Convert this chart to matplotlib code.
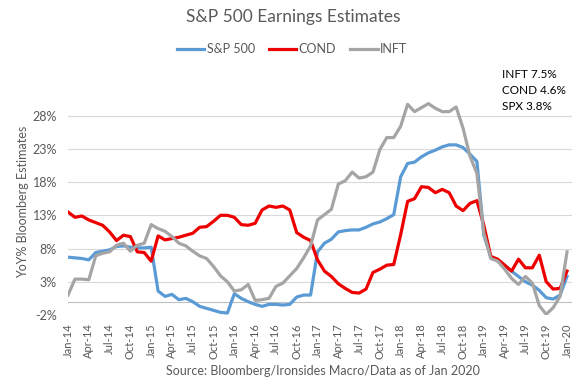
import matplotlib
matplotlib.use("Agg")
import matplotlib.pyplot as plt

plt.rcParams['font.family'] = ['Lato', 'DejaVu Sans']

# monthly, Jan-14 .. Jan-20
months = ['Jan', 'Feb', 'Mar', 'Apr', 'May', 'Jun', 'Jul', 'Aug', 'Sep', 'Oct', 'Nov', 'Dec']
dates = ['%s-%02d' % (months[i % 12], 14 + i // 12) for i in range(73)]

spx = [6.7, 6.6, 6.5, 6.3, 7.4, 7.6, 7.8, 8.3, 8.4, 8.2, 8.1, 8.1,
       8.2, 1.6, 0.8, 1.1, 0.3, 0.5, 0.0, -0.7, -1.0, -1.3, -1.6, -1.7,
       1.2, 0.5, 0.0, -0.4, -0.7, -0.4, -0.4, -0.5, -0.4, 0.7, 1.0, 1.0,
       7.5, 8.8, 9.4, 10.5, 10.7, 10.8, 10.8, 11.2, 11.7, 12.0, 12.5, 13.1,
       18.8, 20.8, 21.0, 21.8, 22.4, 22.8, 23.3, 23.6, 23.6, 23.2, 22.2, 21.1,
       10.0, 6.8, 6.3, 5.5, 4.6, 3.8, 3.0, 2.5, 1.7, 0.6, 0.4, 1.0,
       3.8]

cond = [13.5, 12.7, 12.9, 12.3, 11.9, 11.5, 10.5, 9.2, 10.0, 9.8, 7.5, 7.4,
        6.1, 9.9, 9.3, 9.5, 9.7, 10.0, 10.3, 11.2, 11.3, 12.1, 13.0, 13.0,
        12.7, 11.6, 11.5, 11.8, 13.8, 14.4, 14.2, 14.4, 13.8, 10.4, 9.7, 9.2,
        6.3, 4.6, 3.8, 2.7, 2.0, 1.4, 1.3, 1.9, 4.4, 4.9, 5.5, 5.6,
        10.1, 15.1, 15.5, 17.3, 17.2, 16.4, 16.9, 16.4, 14.4, 13.7, 14.8, 15.2,
        11.5, 6.8, 6.4, 5.5, 4.6, 6.4, 5.1, 5.1, 7.0, 3.0, 1.9, 2.0,
        4.6]

inft = [1.0, 3.4, 3.4, 3.3, 6.9, 7.3, 7.5, 8.5, 8.8, 7.6, 8.5, 8.8,
        11.6, 11.0, 10.6, 9.8, 8.8, 8.4, 7.6, 6.9, 6.5, 5.3, 3.9, 3.0,
        1.6, 1.8, 2.6, 0.2, 0.3, 0.5, 2.3, 2.8, 3.9, 5.0, 6.6, 8.4,
        12.3, 13.1, 13.9, 17.7, 18.2, 19.5, 18.6, 18.8, 19.5, 22.9, 24.7, 24.7,
        26.4, 29.7, 28.6, 29.2, 29.8, 29.1, 28.6, 28.6, 29.3, 26.1, 21.9, 19.3,
        10.3, 6.5, 6.1, 4.9, 3.5, 2.6, 3.8, 2.8, -0.6, -1.9, -0.9, 0.8,
        7.5]

yticks = [-2, 3, 8, 13, 18, 23, 28]
txt = '#595959'

fig = plt.figure(figsize=(5.82, 3.86), dpi=100)
ax = fig.add_axes([68 / 582, 1 - 315 / 386, 504 / 582, 216 / 386])

x = list(range(len(dates)))
ax.plot(x, spx, color='#5B9BD5', lw=2.3, label='S&P 500', solid_joinstyle='round')
ax.plot(x, cond, color='#EE0000', lw=2.3, label='COND', solid_joinstyle='round')
ax.plot(x, inft, color='#A5A5A5', lw=2.3, label='INFT', solid_joinstyle='round')

ax.set_xlim(0, 72.72)
ax.set_ylim(-2, 30.5)
ax.set_yticks(yticks)
ax.set_yticklabels(['%d%%' % v for v in yticks], color=txt, fontsize=9)
ax.set_xticks(x[::3])
ax.set_xticklabels(dates[::3], rotation=90, color=txt, fontsize=8)
ax.tick_params(length=0)
ax.tick_params(axis='y', pad=8)
ax.tick_params(axis='x', pad=6)
for s in ax.spines.values():
    s.set_visible(False)
ax.grid(axis='y', color='#d9d9d9', lw=0.8)
ax.set_axisbelow(True)
ax.axhline(0, color='#bfbfbf', lw=0.8, zorder=1)

fig.text(293 / 582, 1 - 17 / 386, 'S&P 500 Earnings Estimates', ha='center', va='center',
         fontsize=12.5, color=txt)
fig.text(23 / 582, 1 - 202 / 386, 'YoY% Bloomberg Estimates', rotation=90, ha='center',
         va='center', fontsize=9, color=txt)
fig.text(323 / 582, 1 - 371 / 386, 'Source: Bloomberg/Ironsides Macro/Data as of Jan 2020',
         ha='center', va='center', fontsize=9, color=txt)

for i, s in enumerate(['INFT 7.5%', 'COND 4.6%', 'SPX 3.8%']):
    fig.text(502 / 582, 1 - (74 + 16.5 * i) / 386, s, ha='left', va='center',
             fontsize=8.5, color='black')

fig.legend(loc='center', bbox_to_anchor=(292 / 582, 1 - 49 / 386), ncol=3, frameon=False,
           fontsize=9, handlelength=2.2, handletextpad=0.2, columnspacing=1.1,
           labelcolor=txt)

fig.savefig('out.png', dpi=100)
